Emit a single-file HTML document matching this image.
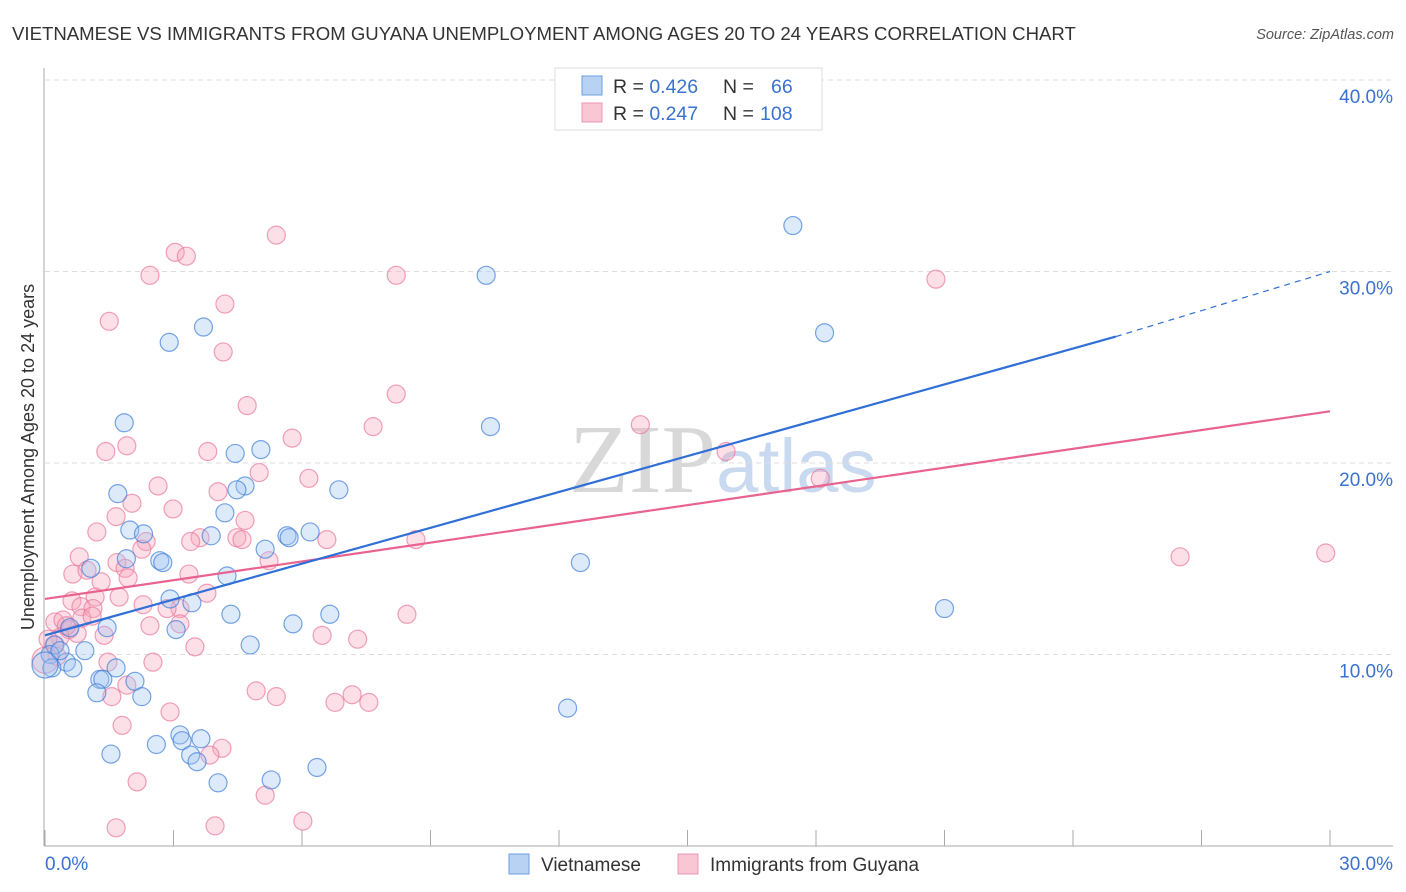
<!DOCTYPE html>
<html><head><meta charset="utf-8"><style>
body{margin:0;background:#fff;font-family:"Liberation Sans",sans-serif;}
svg{display:block}
</style></head><body>
<svg id="chart" width="1406" height="892" xmlns="http://www.w3.org/2000/svg">
<text x="12" y="40" font-size="18.6" fill="#333">VIETNAMESE VS IMMIGRANTS FROM GUYANA UNEMPLOYMENT AMONG AGES 20 TO 24 YEARS CORRELATION CHART</text>
<text x="1394" y="39" font-size="14.5" fill="#555" font-style="italic" text-anchor="end">Source: ZipAtlas.com</text>
<text x="716" y="492" font-size="98" fill="#d8d8d8" text-anchor="end" font-family="Liberation Serif,serif">ZIP</text>
<text x="716" y="492" font-size="76" fill="#c9d9ef">atlas</text>
<g id="grid"></g>
<g id="axes"></g>
<g id="marks"></g>
<text transform="translate(34,457) rotate(-90)" font-size="18" fill="#333" text-anchor="middle">Unemployment Among Ages 20 to 24 years</text>
<g>
<rect x="555" y="68" width="267" height="62" fill="#fff" stroke="#ddd"/>
<rect x="582" y="76" width="20" height="19" fill="#b8d2f4" stroke="#6d9ee0"/>
<rect x="582" y="103" width="20" height="19" fill="#f9c6d4" stroke="#ec96b0"/>
<text x="613" y="93" font-size="19.5" fill="#333">R = <tspan fill="#3a72d0">0.426</tspan><tspan x="723">N =</tspan><tspan x="771" fill="#3a72d0">66</tspan></text>
<text x="613" y="120" font-size="19.5" fill="#333">R = <tspan fill="#3a72d0">0.247</tspan><tspan x="723">N =</tspan><tspan x="760" fill="#3a72d0">108</tspan></text>
</g>
<g>
<rect x="509" y="854" width="20" height="20" fill="#b8d2f4" stroke="#6d9ee0"/>
<text x="541" y="871" font-size="19" fill="#333">Vietnamese</text>
<rect x="678" y="854" width="20" height="20" fill="#f9c6d4" stroke="#ec96b0"/>
<text x="710" y="871" font-size="19" fill="#333">Immigrants from Guyana</text>
</g>
</svg>
<script>
const yTicks=[10,20,30,40];
const yTickLabels=["10.0%","20.0%","30.0%","40.0%"];
const xTickCount=10;
const blueX=[17.46,10.3,18.2,2.9,3.7,1.85,10.4,5.04,4.44,1.7,6.86,4.67,4.48,4.2,1.98,2.3,3.88,5.65,5.7,6.19,2.68,2.75,5.14,12.5,1.9,1.07,4.25,21.0,2.92,3.43,4.34,6.65,5.79,3.06,1.45,0.58,4.79,0.93,0.23,0.12,0.5,0.65,0.16,1.66,1.28,1.35,2.1,1.21,2.26,12.2,1.54,2.6,3.15,3.2,3.64,3.4,3.55,5.28,4.04,6.35,0,0.35];
const blueY=[32.4,29.8,26.8,26.3,27.1,22.1,21.9,20.7,20.5,18.4,18.6,18.8,18.6,17.4,16.5,16.3,16.2,16.2,16.1,16.4,14.9,14.8,15.5,14.8,15.0,14.5,14.1,12.4,12.9,12.7,12.1,12.1,11.6,11.3,11.4,11.4,10.5,10.2,10.5,10.0,9.6,9.3,9.3,9.3,8.7,8.7,8.6,8.0,7.8,7.2,4.8,5.3,5.8,5.5,5.6,4.75,4.4,3.45,3.3,4.1,9.45,10.2];
const pinkX=[5.4,3.04,3.3,2.45,8.2,20.8,4.2,1.5,4.16,8.2,4.72,13.9,7.66,5.77,1.91,1.42,3.8,15.9,5.0,6.16,18.1,2.64,4.04,2.03,2.99,1.66,4.67,1.21,4.48,4.6,3.62,8.66,6.58,2.36,3.4,2.26,0.8,26.5,29.9,5.23,1.68,1.87,0.65,0.98,1.94,3.36,1.31,1.73,1.17,3.78,0.63,0.84,1.12,2.29,3.15,8.45,2.85,0.23,0.42,0.86,1.1,2.45,3.15,0.56,0.75,1.38,0.35,6.47,7.3,3.5,0.21,0.28,1.47,2.52,4.93,5.4,1.91,7.17,6.77,7.56,1.56,2.92,1.8,4.13,3.85,2.15,5.14,1.66,3.97,6.02,0,0.07,0.5];
const pinkY=[31.9,31.0,30.8,29.8,29.8,29.6,28.3,27.4,25.8,23.6,23.0,22.0,21.9,21.3,20.9,20.6,20.6,20.6,19.5,19.2,19.2,18.8,18.5,17.9,17.6,17.2,17.0,16.4,16.1,16.0,16.1,16.0,16.0,15.9,15.9,15.5,15.1,15.1,15.3,14.9,14.8,14.5,14.2,14.4,14.0,14.2,13.8,13.0,13.0,13.2,12.8,12.5,12.4,12.6,12.4,12.1,12.4,11.7,11.8,11.9,12.0,11.5,11.6,11.3,11.1,11.0,10.9,11.0,10.8,10.4,10.5,9.9,9.6,9.6,8.1,7.8,8.4,7.9,7.5,7.5,7.8,7.0,6.3,5.1,4.75,3.35,2.65,0.95,1.05,1.3,9.7,10.8,11.5];
const blueLineX=[0,25,30];
const blueLineY=[11.0,26.6,30.0];
const pinkLineX=[0,30];
const pinkLineY=[12.9,22.7];

const X0=45,X1=1330,YB=846,PX=19.15;
function sx(v){return X0+(X1-X0)*v/30;}
function sy(v){return YB-v*PX;}
const NS="http://www.w3.org/2000/svg";
function mk(tag,attrs,parent){const e=document.createElementNS(NS,tag);for(const k in attrs)e.setAttribute(k,attrs[k]);document.getElementById(parent).appendChild(e);return e;}

yTicks.forEach((t,i)=>{
  const l=mk('line',{x1:45,x2:1393,y1:sy(t),y2:sy(t),stroke:'#ddd','stroke-dasharray':'5,4'},'grid');
  
  
  const tx=mk('text',{x:1393,y:sy(t)+23,'font-size':19,fill:'#3a72d0','text-anchor':'end'},'axes');
  tx.textContent=yTickLabels[i];
  
  
});
const ax=mk('line',{x1:44,x2:44,y1:68,y2:YB,stroke:'#aaa'},'axes');


const bx=mk('line',{x1:44,x2:1393,y1:YB,y2:YB,stroke:'#aaa'},'axes');


for(let i=0;i<=xTickCount;i++){
  const t=mk('line',{x1:sx(i*3),x2:sx(i*3),y1:830,y2:YB,stroke:'#aaa'},'axes');
  
  
}
const xl0=mk('text',{x:45,y:870,'font-size':19,fill:'#3a72d0'},'axes');xl0.textContent='0.0%';


const xl1=mk('text',{x:1393,y:870,'font-size':19,fill:'#3a72d0','text-anchor':'end'},'axes');xl1.textContent='30.0%';



function dots(xs,ys,fill,stroke,name){
  xs.forEach((x,i)=>{
    const big=(x===0);
    const c=mk('circle',{cx:sx(x),cy:sy(ys[i]),r:big?13:9,fill:fill,'fill-opacity':0.35,stroke:stroke,'stroke-width':1.2,'stroke-opacity':0.7},'marks');
    
    
  });
}
dots(pinkX,pinkY,'#f6a3bb','#e9799c','guyana-point');
dots(blueX,blueY,'#9ec2f0','#3f7fd8','vietnamese-point');

const pl=mk('line',{x1:sx(pinkLineX[0]),y1:sy(pinkLineY[0]),x2:sx(pinkLineX[1]),y2:sy(pinkLineY[1]),stroke:'#e8638f','stroke-width':2.2},'marks');


const bl=mk('line',{x1:sx(blueLineX[0]),y1:sy(blueLineY[0]),x2:sx(blueLineX[1]),y2:sy(blueLineY[1]),stroke:'#2f6fd6','stroke-width':2.2},'marks');


const bd=mk('line',{x1:sx(blueLineX[1]),y1:sy(blueLineY[1]),x2:sx(blueLineX[2]),y2:sy(blueLineY[2]),stroke:'#2f6fd6','stroke-width':1.2,'stroke-dasharray':'6,5'},'marks');


</script>
</body></html>
